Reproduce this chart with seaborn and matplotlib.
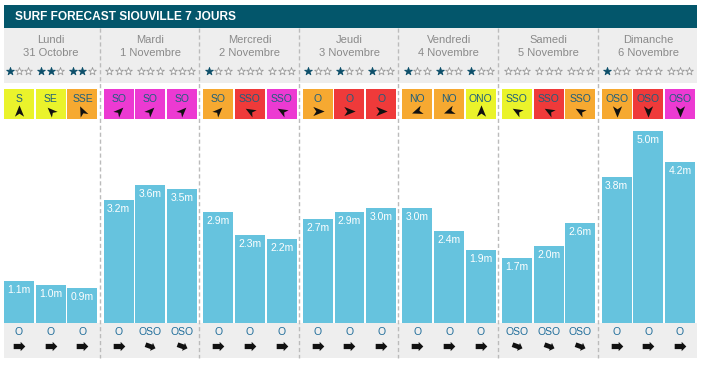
import numpy as np
import pandas as pd
import matplotlib
matplotlib.use('Agg')
import matplotlib.pyplot as plt
import seaborn as sns
from matplotlib.path import Path
from matplotlib.patches import Rectangle

days = ['Lundi', 'Mardi', 'Mercredi', 'Jeudi', 'Vendredi', 'Samedi', 'Dimanche']
dates = ['31 Octobre', '1 Novembre', '2 Novembre', '3 Novembre',
         '4 Novembre', '5 Novembre', '6 Novembre']
heights = [1.1, 1.0, 0.9, 3.2, 3.6, 3.5, 2.9, 2.3, 2.2, 2.7, 2.9, 3.0,
           3.0, 2.4, 1.9, 1.7, 2.0, 2.6, 3.8, 5.0, 4.2]
stars = [1, 2, 2, 0, 0, 0, 1, 0, 0, 1, 1, 1, 1, 1, 1, 0, 0, 0, 1, 0, 0]
swell_dir = ['S', 'SE', 'SSE', 'SO', 'SO', 'SO', 'SO', 'SSO', 'SSO', 'O', 'O', 'O',
             'NO', 'NO', 'ONO', 'SSO', 'SSO', 'SSO', 'OSO', 'OSO', 'OSO']
swell_col = ['yellow', 'yellow', 'orange', 'magenta', 'magenta', 'magenta',
             'orange', 'red', 'magenta', 'orange', 'red', 'red',
             'orange', 'orange', 'yellow', 'yellow', 'red', 'orange',
             'orange', 'red', 'magenta']
wind_dir = ['O', 'O', 'O', 'O', 'OSO', 'OSO', 'O', 'O', 'O', 'O', 'O', 'O',
            'O', 'O', 'O', 'OSO', 'OSO', 'OSO', 'O', 'O', 'O']

# styling
palette = {'yellow': '#eaf32b', 'orange': '#f6a931', 'magenta': '#ec3ad2', 'red': '#ef3a3a'}
swell_angle = {'S': 90, 'SE': 135, 'SSE': 115, 'SO': 45, 'SSO': 150,
               'O': 0, 'NO': 200, 'ONO': 90, 'OSO': -90}
wind_angle = {'O': 0, 'OSO': -20}

plt.rcParams['font.family'] = ['Liberation Sans', 'DejaVu Sans']


def rotated_marker(verts, angle):
    # marker paths live in display space, y points up
    verts = np.array(verts, dtype=float)
    a = np.deg2rad(angle)
    rot = np.array([[np.cos(a), -np.sin(a)], [np.sin(a), np.cos(a)]])
    v = verts @ rot.T
    return Path(np.vstack([v, v[:1]]), closed=True)


nav_arrow = [(1, 0), (-0.85, 0.75), (-0.35, 0), (-0.85, -0.75)]
fat_arrow = [(1, 0), (0.2, 0.8), (0.2, 0.45), (-1, 0.45), (-1, -0.45), (0.2, -0.45), (0.2, -0.8)]

# slot positions in pixels
slot_x = [4 + 99.6 * (i // 3) + 31.7 * (i % 3) for i in range(len(heights))]
centers = [x + 15 for x in slot_x]

fig = plt.figure(figsize=(7.02, 3.65), dpi=100)
ax0 = fig.add_axes([0, 0, 1, 1])
ax0.set_xlim(0, 702)
ax0.set_ylim(365, 0)
ax0.axis('off')

# title bar
ax0.add_patch(Rectangle((4, 5), 693, 23, color='#03566b', lw=0))
ax0.text(15, 16.5, 'SURF FORECAST SIOUVILLE 7 JOURS', color='white',
         fontweight='bold', fontsize=8.6, va='center', ha='left')

# header and footer backgrounds
ax0.add_patch(Rectangle((4, 28), 693, 55, color='#eeeeee', lw=0))
ax0.add_patch(Rectangle((4, 323), 693, 35, color='#eeeeee', lw=0))

for d, (name, date) in enumerate(zip(days, dates)):
    cx = 4 + 99.6 * d + 46.5
    ax0.text(cx, 40, name, ha='center', va='center', fontsize=8, color='#8a8a8a')
    ax0.text(cx, 52.5, date, ha='center', va='center', fontsize=8, color='#8a8a8a')

for d in range(1, 7):
    x = 99.6 * d
    ax0.plot([x, x], [28, 358], color='#bbbbbb', lw=1, ls=(0, (3, 2)))

for i, cx in enumerate(centers):
    # rating stars
    for j in range(3):
        filled = j < stars[i]
        ax0.scatter(cx + (j - 1) * 9.3, 71, marker='*', s=34,
                    facecolor='#0d4f6a' if filled else 'white',
                    edgecolor='#0d4f6a' if filled else '#9a9a9a', lw=0.6, zorder=3)
    # swell direction box
    ax0.add_patch(Rectangle((slot_x[i], 89), 30, 30, color=palette[swell_col[i]], lw=0))
    ax0.text(cx, 98.5, swell_dir[i], ha='center', va='center', fontsize=7.5, color='#1e5f7d')
    ax0.scatter(cx, 110.5, marker=rotated_marker(nav_arrow, swell_angle[swell_dir[i]]),
                s=78, color='#111111', lw=0, zorder=3)
    # wind
    ax0.text(cx, 332, wind_dir[i], ha='center', va='center', fontsize=7.5, color='#1f6d9a')
    ax0.scatter(cx, 346, marker=rotated_marker(fat_arrow, wind_angle[wind_dir[i]]),
                s=70, color='#111111', lw=0, zorder=3)

# bars
px_per_m = 38.4
ax1 = fig.add_axes([0, (365 - 323) / 365, 1, (323 - 100) / 365])
ax1.patch.set_alpha(0)
df = pd.DataFrame({'pos': centers, 'height': heights})
sns.barplot(data=df, x='pos', y='height', native_scale=True, width=30 / 31.7,
            color='#66c3de', saturation=1, errorbar=None, linewidth=0, ax=ax1)
ax1.set_xlim(0, 702)
ax1.set_ylim(0, (323 - 100) / px_per_m)
ax1.axis('off')

for p in ax1.patches:
    h = p.get_height()
    ax1.annotate(f'{h:.1f}m', (p.get_x() + p.get_width() / 2, h), xytext=(0, -6.5),
                 textcoords='offset points', ha='center', va='center',
                 color='white', fontsize=7.5)

fig.savefig('out.png', dpi=100)
